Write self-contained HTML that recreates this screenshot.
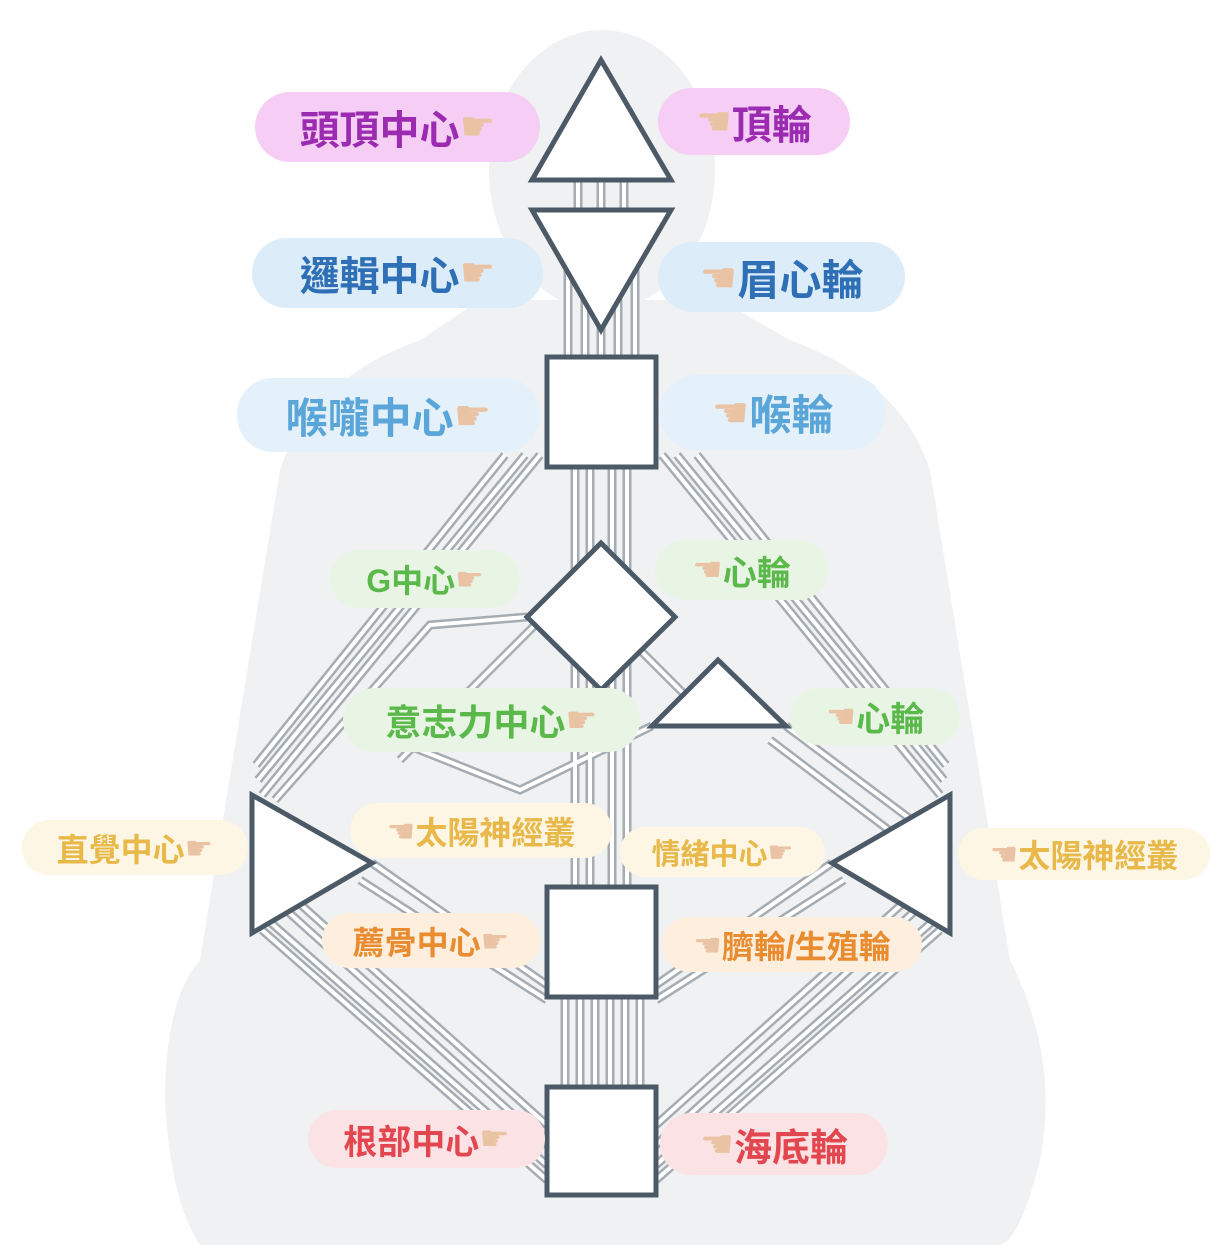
<!DOCTYPE html>
<html><head><meta charset="utf-8"><style>
html,body{margin:0;padding:0;background:#fff;}
body{width:1217px;height:1258px;position:relative;overflow:hidden;font-family:"Liberation Sans","Noto Sans CJK TC",sans-serif;}
svg{position:absolute;left:0;top:0;}
.p{position:absolute;border-radius:36px;display:flex;align-items:center;justify-content:center;font-weight:bold;white-space:nowrap;font-family:"Liberation Sans","Noto Sans CJK TC",sans-serif;}
.h{color:#e9c3a3;font-family:"DejaVu Sans",sans-serif;font-weight:normal;}
</style></head><body>
<svg width="1217" height="1258" viewBox="0 0 1217 1258">
<ellipse cx="602" cy="170" rx="113" ry="140" fill="#f0f1f3"/>
<path d="M480 300 L720 300 L790 340 Q900 380 930 470 L1010 960 Q1060 1060 1040 1160 Q1020 1240 1000 1245 L200 1245 Q170 1200 165 1100 Q165 1000 200 960 L280 470 Q310 380 420 340 Z" fill="#f0f1f3"/>
<g fill="none" stroke-linecap="butt">
<g stroke="#a5acb2" stroke-width="9">
<path d="M578 180V210M601 180V210M624 180V210"/>
<path d="M568 260V357M585 260V357M601 260V357M618 260V357M635 260V357"/>
<path d="M575 467V580M590 467V580M612 467V580M627 467V580"/>
<path d="M575 655V887M590 670V887M612 670V887M627 655V887"/>
<path d="M565 997V1087M580 997V1087M595 997V1087M610 997V1087M625 997V1087M640 997V1087"/>
<path d="M540 455L262 795M525 455L258 780M505 455L256 765"/>
<path d="M662 455L940 795M677 455L944 780M697 455L946 765"/>
<path d="M262 930L547 1180M262 915L547 1165M275 900L547 1145M290 895L547 1125"/>
<path d="M940 930L656 1180M940 915L656 1165M927 900L656 1145M912 895L656 1125"/>
<path d="M372 863L547 985M360 880L547 1000"/>
<path d="M832 863L656 985M844 880L656 1000"/>
<path d="M527 617L430 625L275 800"/>
<path d="M652 726L520 790L395 740"/>
<path d="M786 726L925 830M770 740L915 850"/>
<path d="M640 650L690 700"/>
<path d="M560 600L400 760"/>
</g>
<g stroke="#fff" stroke-width="4">
<path d="M578 180V210M601 180V210M624 180V210"/>
<path d="M568 260V357M585 260V357M601 260V357M618 260V357M635 260V357"/>
<path d="M575 467V580M590 467V580M612 467V580M627 467V580"/>
<path d="M575 655V887M590 670V887M612 670V887M627 655V887"/>
<path d="M565 997V1087M580 997V1087M595 997V1087M610 997V1087M625 997V1087M640 997V1087"/>
<path d="M540 455L262 795M525 455L258 780M505 455L256 765"/>
<path d="M662 455L940 795M677 455L944 780M697 455L946 765"/>
<path d="M262 930L547 1180M262 915L547 1165M275 900L547 1145M290 895L547 1125"/>
<path d="M940 930L656 1180M940 915L656 1165M927 900L656 1145M912 895L656 1125"/>
<path d="M372 863L547 985M360 880L547 1000"/>
<path d="M832 863L656 985M844 880L656 1000"/>
<path d="M527 617L430 625L275 800"/>
<path d="M652 726L520 790L395 740"/>
<path d="M786 726L925 830M770 740L915 850"/>
<path d="M640 650L690 700"/>
<path d="M560 600L400 760"/>
</g>
</g>
<g fill="#fff" stroke="#4b5a66" stroke-width="5" stroke-linejoin="miter">
<polygon points="601,60 532,180 671,180"/>
<polygon points="532,210 671,210 601,330"/>
<rect x="547" y="357" width="109" height="110"/>
<polygon points="601,543 675,617 601,690 527,617"/>
<polygon points="718,660 652,726 786,726"/>
<polygon points="252,795 252,933 372,863"/>
<polygon points="950,795 950,933 832,863"/>
<rect x="547" y="887" width="109" height="110"/>
<rect x="547" y="1087" width="109" height="108"/>
</g>
</svg>
<div class="p" style="left:255px;top:92px;width:285px;height:70px;background:#f5cdf5;color:#9b2bb0;font-size:40px;">頭頂中心<span class="h">☛</span></div>
<div class="p" style="left:658px;top:88px;width:192px;height:67px;background:#f5cdf5;color:#9b2bb0;font-size:40px;"><span class="h">☚</span>頂輪</div>
<div class="p" style="left:252px;top:238px;width:291px;height:70px;background:#dcecf9;color:#2f6fb6;font-size:40px;">邏輯中心<span class="h">☛</span></div>
<div class="p" style="left:658px;top:242px;width:247px;height:70px;background:#dcecf9;color:#2f6fb6;font-size:42px;"><span class="h">☚</span>眉心輪</div>
<div class="p" style="left:237px;top:378px;width:303px;height:74px;background:#e4f1fb;color:#5aa6d8;font-size:42px;">喉嚨中心<span class="h">☛</span></div>
<div class="p" style="left:660px;top:375px;width:225px;height:75px;background:#e4f1fb;color:#5aa6d8;font-size:42px;"><span class="h">☚</span>喉輪</div>
<div class="p" style="left:330px;top:550px;width:190px;height:58px;background:#e8f5e4;color:#5bb84a;font-size:32px;">G中心<span class="h">☛</span></div>
<div class="p" style="left:655px;top:540px;width:173px;height:60px;background:#e8f5e4;color:#5bb84a;font-size:34px;"><span class="h">☚</span>心輪</div>
<div class="p" style="left:343px;top:688px;width:297px;height:64px;background:#e8f5e4;color:#5bb84a;font-size:36px;">意志力中心<span class="h">☛</span></div>
<div class="p" style="left:790px;top:688px;width:170px;height:57px;background:#e8f5e4;color:#5bb84a;font-size:34px;"><span class="h">☚</span>心輪</div>
<div class="p" style="left:22px;top:820px;width:226px;height:55px;background:#fdf6e4;color:#e8b94a;font-size:32px;">直覺中心<span class="h">☛</span></div>
<div class="p" style="left:350px;top:803px;width:262px;height:55px;background:#fdf6e4;color:#e8b94a;font-size:32px;"><span class="h">☚</span>太陽神經叢</div>
<div class="p" style="left:620px;top:827px;width:205px;height:50px;background:#fdf6e4;color:#e8b94a;font-size:29px;">情緒中心<span class="h">☛</span></div>
<div class="p" style="left:958px;top:828px;width:252px;height:52px;background:#fdf6e4;color:#e8b94a;font-size:32px;"><span class="h">☚</span>太陽神經叢</div>
<div class="p" style="left:322px;top:913px;width:218px;height:55px;background:#fdeedd;color:#e98b2f;font-size:32px;">薦骨中心<span class="h">☛</span></div>
<div class="p" style="left:662px;top:917px;width:260px;height:55px;background:#fdeedd;color:#e98b2f;font-size:32px;"><span class="h">☚</span>臍輪/生殖輪</div>
<div class="p" style="left:308px;top:1110px;width:237px;height:58px;background:#fbe3e5;color:#e2474f;font-size:34px;">根部中心<span class="h">☛</span></div>
<div class="p" style="left:660px;top:1113px;width:228px;height:62px;background:#fbe3e5;color:#e2474f;font-size:38px;"><span class="h">☚</span>海底輪</div>
</body></html>
